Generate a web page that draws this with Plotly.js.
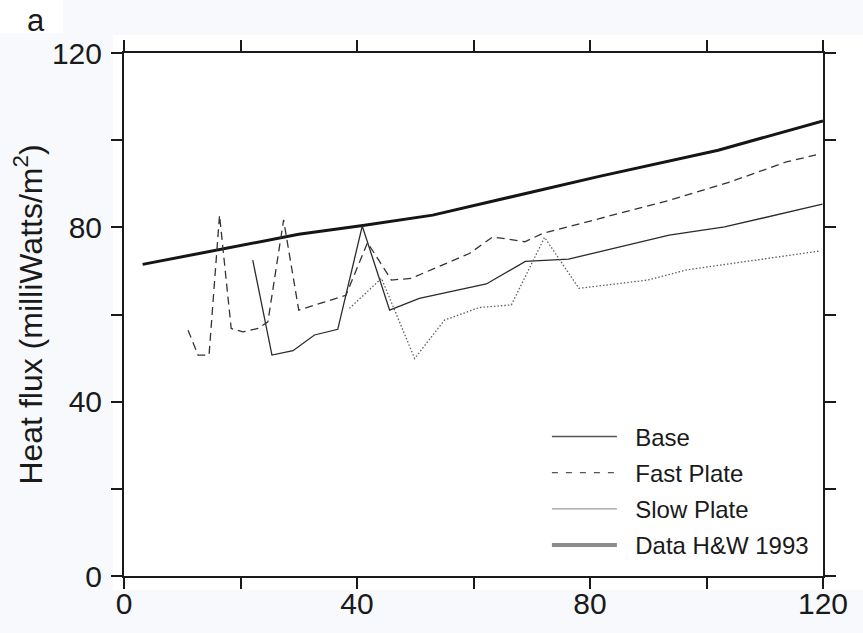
<!DOCTYPE html>
<html>
<head>
<meta charset="utf-8">
<script src="https://cdn.plot.ly/plotly-3.0.1.min.js"></script>
<style>html,body{margin:0;padding:0;background:#f8f9fc;}#chart{width:863px;height:633px;}</style>
</head>
<body>
<div id="chart"></div>
<script>
// ---- data ----
const hwX   = [3.2, 17, 30, 41, 53, 81.6, 102, 120];
const hwY   = [71.5, 75.0, 78.4, 80.4, 82.8, 91.7, 97.7, 104.4];

const baseX = [22.1, 25.4, 29.0, 32.7, 36.7, 40.9, 45.6, 50.7, 62.2, 68.9, 76.3, 85, 93.6, 103.1, 112, 119.9];
const baseY = [72.5, 50.7, 51.7, 55.3, 56.6, 80.3, 61.0, 63.7, 67.0, 72.2, 72.7, 75.5, 78.2, 80.1, 82.8, 85.3];

const fastX = [11.0, 12.7, 14.6, 16.4, 18.4, 20.4, 23.0, 24.7, 27.4, 30.0, 38.1, 41.8, 45.9, 49.3, 59.3, 63.3, 68.8, 71.9, 81.6, 93.6, 104, 113.7, 118.8];
const fastY = [56.4, 50.7, 50.7, 82.8, 56.8, 56.0, 56.8, 58.3, 81.7, 61.0, 64.4, 76.5, 67.9, 68.3, 74.0, 77.8, 76.7, 78.6, 82.0, 86.2, 90.4, 95.0, 96.6];

const slowX = [38.7, 44.2, 49.9, 55.0, 61.0, 66.5, 72.2, 78.1, 89.9, 96.5, 119.5];
const slowY = [61.4, 68.3, 49.9, 58.7, 61.6, 62.2, 77.7, 66.0, 67.9, 70.2, 74.6];

const seriesNames = ['Base', 'Fast Plate', 'Slow Plate', 'Data H&W 1993'];
const tickVals = [0, 20, 40, 60, 80, 100, 120];
const tickText = ['0', '', '40', '', '80', '', '120'];

const FONT = '"Liberation Sans", Arial, Helvetica, sans-serif';
const INK = '#1a1a1a';
const PAD = '&nbsp;&nbsp;';

const traces = [
  {x: hwX, y: hwY, type: 'scatter', mode: 'lines', showlegend: false,
   line: {color: '#151515', width: 3}},
  {x: baseX, y: baseY, type: 'scatter', mode: 'lines', showlegend: false,
   line: {color: '#2a2a2a', width: 1.3}},
  {x: fastX, y: fastY, type: 'scatter', mode: 'lines', showlegend: false,
   line: {color: '#333333', width: 1.3, dash: '8px,5px'}},
  {x: slowX, y: slowY, type: 'scatter', mode: 'lines', showlegend: false,
   line: {color: '#5e5e5e', width: 1.3, dash: '1.5px,2px'}},
  // legend entries (styled as in the reference key)
  {x: [null], y: [null], type: 'scatter', mode: 'lines', name: PAD + seriesNames[0], legendgroup: 'a',
   line: {color: '#555555', width: 1.3}},
  {x: [null], y: [null], type: 'scatter', mode: 'lines', name: PAD + seriesNames[1], legendgroup: 'b',
   line: {color: '#555555', width: 1.3, dash: '6px,8px'}},
  {x: [null], y: [null], type: 'scatter', mode: 'lines', name: PAD + seriesNames[2], legendgroup: 'c',
   line: {color: '#9a9a9a', width: 1.3}},
  {x: [null], y: [null], type: 'scatter', mode: 'lines', name: PAD + seriesNames[3], legendgroup: 'd',
   line: {color: '#8c8c8c', width: 4}}
];

const axisCommon = {
  range: [0, 120], tickmode: 'array', tickvals: tickVals, ticktext: tickText,
  ticks: 'outside', ticklen: 11, tickwidth: 2, tickcolor: INK,
  showline: true, linewidth: 2, linecolor: INK, mirror: 'ticks',
  showgrid: false, zeroline: false,
  tickfont: {family: FONT, size: 30, color: INK}
};

const layout = {
  width: 863, height: 633,
  margin: {l: 124, r: 40, t: 53, b: 57},
  paper_bgcolor: '#f8f9fc', plot_bgcolor: '#ffffff',
  font: {family: FONT, color: INK},
  xaxis: Object.assign({}, axisCommon, {ticklabelstandoff: -11}),
  yaxis: Object.assign({}, axisCommon, {ticklabelstandoff: 3,
    title: {text: 'Heat flux (milliWatts/m<sup>2</sup>)', font: {family: FONT, size: 32, color: INK}, standoff: 0}}),
  showlegend: true,
  legend: {x: 0.605, y: 0.309, xanchor: 'left', yanchor: 'top', bgcolor: 'rgba(0,0,0,0)',
    font: {family: FONT, size: 24, color: INK}, tracegroupgap: 2, itemwidth: 65, traceorder: 'grouped'},
  shapes: [
    {type: 'rect', xref: 'paper', yref: 'paper', x0: -0.0157, x1: 1.06, y0: -0.0268, y1: 1.0344,
     fillcolor: '#ffffff', line: {width: 0}, layer: 'below'},
    {type: 'rect', xref: 'paper', yref: 'paper', x0: -0.18, x1: -0.0876, y0: 1.038, y1: 1.11,
     fillcolor: '#ffffff', line: {width: 0}, layer: 'below'}
  ],
  annotations: [
    {text: 'a', xref: 'paper', yref: 'paper', x: -0.126, y: 1.063, xanchor: 'center', yanchor: 'middle',
     showarrow: false, font: {family: FONT, size: 31, color: INK}}
  ]
};

Plotly.newPlot('chart', traces, layout, {staticPlot: true, displayModeBar: false});
</script>
</body>
</html>
